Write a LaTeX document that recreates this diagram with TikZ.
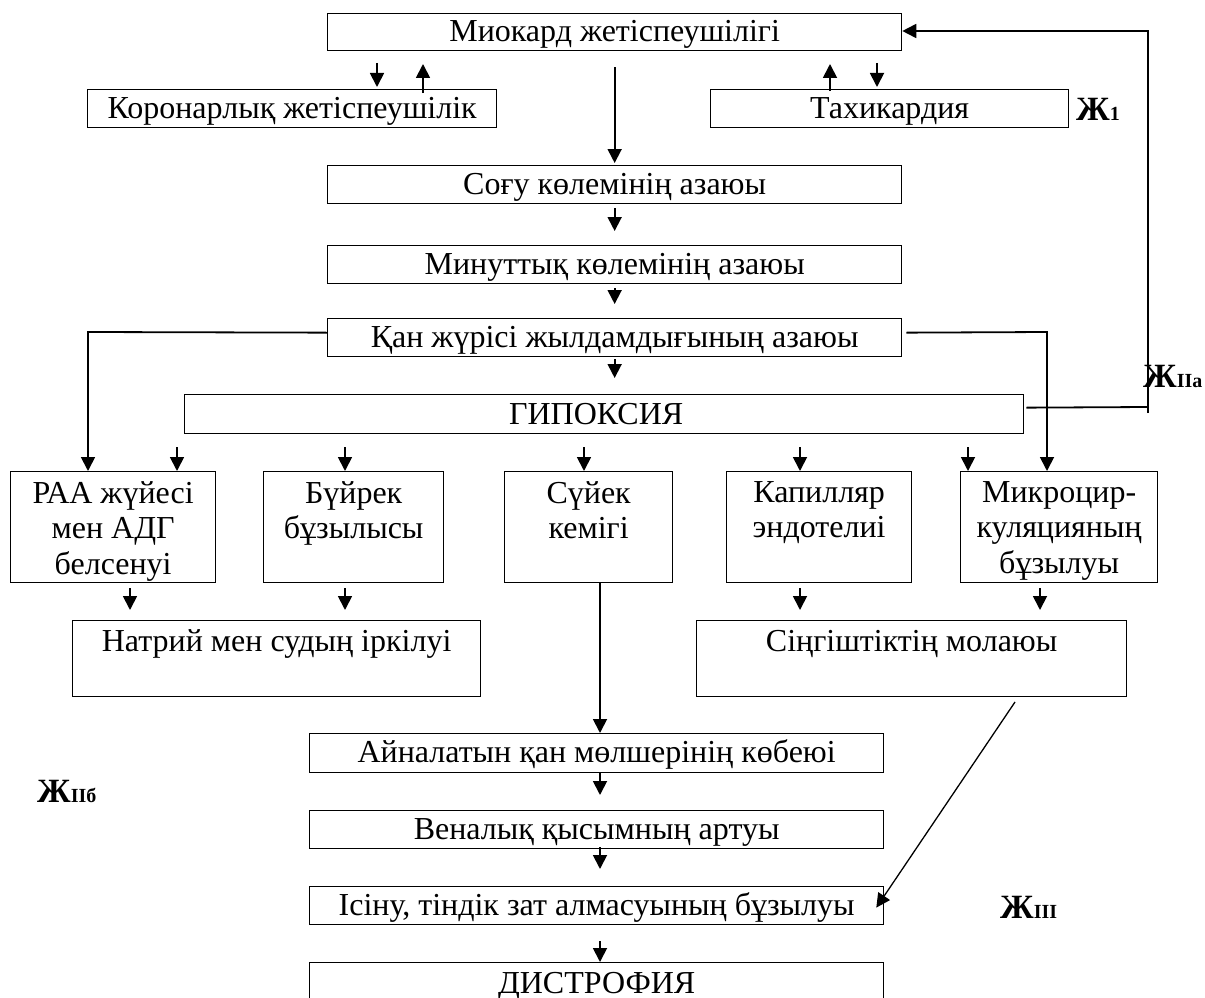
\documentclass[tikz,border=0pt]{standalone}
\usepackage{fontspec}
\setmainfont{Liberation Serif}
\usetikzlibrary{arrows.meta}
\newcommand\zsub[1]{{\fontsize{20}{20}\selectfont #1}}
\newcommand\mkbox[5]{\node[box, inner sep=0pt, anchor=north west, minimum width={(#4-#2)*1pt}, minimum height={(#5-#3)*1pt}] (#1) at (#2,#3) {};}
\begin{document}
\begin{tikzpicture}[x=1pt,y=-1pt,
  box/.style={draw, line width=1.3pt},
  txt/.style={font=\fontsize{32}{35.5}\selectfont, align=center, inner sep=0pt},
  arr/.style={line width=1.8pt, -{Triangle[length=14pt,width=14pt]}},
  arrthin/.style={line width=1.3pt, -{Triangle[length=14pt,width=14pt]}},
  ln/.style={line width=1.8pt},
  zh/.style={font=\bfseries\fontsize{34}{34}\selectfont, inner sep=0pt, anchor=base west}]
\clip (0,0) rectangle (1205,998);
\fill[white] (0,0) rectangle (1205,998);
% boxes
\mkbox{mio}{327}{13}{901}{50}
\mkbox{kor}{87}{89}{496}{127}
\mkbox{tax}{710}{89}{1068}{127}
\mkbox{sog}{327}{165}{901}{203}
\mkbox{min}{327}{245}{901}{283}
\mkbox{qan}{327}{318}{901}{356}
\mkbox{hyp}{184}{394}{1023}{433}
\mkbox{raa}{10}{471}{215}{582}
\mkbox{buy}{263}{471}{443}{582}
\mkbox{suy}{504}{471}{672}{582}
\mkbox{kap}{726}{471}{911}{582}
\mkbox{mik}{960}{471}{1157}{582}
\mkbox{nat}{72}{620}{480}{696}
\mkbox{sin}{696}{620}{1126}{696}
\mkbox{ayn}{309}{733}{883}{772}
\mkbox{ven}{309}{810}{883}{848}
\mkbox{isi}{309}{886}{883}{924}
\mkbox{dis}{309}{962}{883}{1020}
% texts (single-line: baseline 29pt below top)
\node[txt, anchor=base] (miot) at ([yshift=-29pt]mio.north) {Миокард жетіспеушілігі};
\node[txt, anchor=base] (kort) at ([yshift=-29pt]kor.north) {Коронарлық жетіспеушілік};
\node[txt, anchor=base] (taxt) at ([yshift=-29pt]tax.north) {Тахикардия};
\node[txt, anchor=base] (sogt) at ([yshift=-29pt]sog.north) {Соғу көлемінің азаюы};
\node[txt, anchor=base] (mint) at ([yshift=-29pt]min.north) {Минуттық көлемінің азаюы};
\node[txt, anchor=base] (qant) at ([yshift=-29pt]qan.north) {Қан жүрісі жылдамдығының азаюы};
\node[txt, anchor=base] (hypt) at ([xshift=-8pt,yshift=-30pt]hyp.north) {ГИПОКСИЯ};
\node[txt, anchor=north] (raat) at ([yshift=-10pt]raa.north) {РАА жүйесі\\мен АДГ\\белсенуі};
\node[txt, anchor=north] (buyt) at ([yshift=-10pt]buy.north) {Бүйрек\\бұзылысы};
\node[txt, anchor=north] (suyt) at ([yshift=-10pt]suy.north) {Сүйек\\кемігі};
\node[txt, anchor=north] (kapt) at ([yshift=-10pt]kap.north) {Капилляр\\эндотелиі};
\node[txt, anchor=north] (mikt) at ([yshift=-10pt]mik.north) {Микроцир-\\куляцияның\\бұзылуы};
\node[txt, anchor=base] (natt) at ([yshift=-31pt]nat.north) {Натрий мен судың іркілуі};
\node[txt, anchor=base] (sint) at ([yshift=-31pt]sin.north) {Сіңгіштіктің молаюы};
\node[txt, anchor=base] (aynt) at ([yshift=-29pt]ayn.north) {Айналатын қан мөлшерінің көбеюі};
\node[txt, anchor=base] (vent) at ([yshift=-29pt]ven.north) {Веналық қысымның артуы};
\node[txt, anchor=base] (isit) at ([yshift=-29pt]isi.north) {Ісіну, тіндік зат алмасуының бұзылуы};
\node[txt, anchor=base] (dist) at ([yshift=-31pt]dis.north) {ДИСТРОФИЯ};
% labels
\node[zh] (zh1) at (1076,120) {Ж\zsub{1}};
\node[zh] (zh2a) at (1143,387) {Ж\zsub{IIa}};
\node[zh] (zh2b) at (37,802) {Ж\zsub{IIб}};
\node[zh] (zh3) at (1000,918) {Ж\zsub{III}};
% top small arrows
\draw[arr] (377,63) -- (377,87);
\draw[arr] (423,93) -- (423,64);
\draw[arr] (830,91) -- (830,64);
\draw[arr] (877,63) -- (877,87);
% main chain
\draw[arr, shorten <=16pt, shorten >=2pt] (mio.south) -- (sog.north);
\draw[arr, shorten <=4pt, shorten >=14pt] (sog.south) -- (min.north);
\draw[arr, shorten <=4pt, shorten >=14pt] (min.south) -- (qan.north);
\draw[arr, shorten <=2pt, shorten >=16pt] (qan.south) -- (qan.south |- hyp.north);
% branches from qan
\coordinate (lb) at (88,332);
\coordinate (rb) at (1047,332);
\draw[arr] ([yshift=5pt]qan.west) -- (lb) -- (lb |- raa.north);
\draw[arr] ([xshift=4pt,yshift=5pt]qan.east) -- (rb) -- (rb |- mik.north);
% feedback
\coordinate (fb) at (1148,407);
\coordinate (fbt) at (1148,31);
\draw[ln] ([xshift=2pt,yshift=6.5pt]hyp.east) -- (fb);
\draw[arr] (1148,413) -- (fbt) -- (fbt -| mio.east);
% hypoxia to row
\draw[arr] (177,447) -- (177,471);
\draw[arr] (345,447) -- (345,471);
\draw[arr] (584,447) -- (584,471);
\draw[arr] (800,447) -- (800,471);
\draw[arr] (968,447) -- (968,471);
% row to lower boxes
\draw[arr] (130,588) -- (130,610);
\draw[arr] (345,588) -- (345,610);
\draw[arr] (800,588) -- (800,610);
\draw[arr] (1040,588) -- (1040,610);
% bone marrow chain
\coordinate (sl) at (600,0);
\draw[arr] (sl |- suy.south) -- (sl |- ayn.north);
\draw[arr, shorten >=15pt] (sl |- ayn.south) -- (sl |- ven.north);
\draw[arr, shorten <=-2pt, shorten >=17pt] (sl |- ven.south) -- (sl |- isi.north);
\draw[arr, shorten <=16pt] (sl |- isi.south) -- (sl |- dis.north);
% diagonal
\coordinate (dg) at (1015,702);
\draw[arrthin] (dg) -- ([xshift=-8pt,yshift=-2pt]isi.east);
\end{tikzpicture}
\end{document}
